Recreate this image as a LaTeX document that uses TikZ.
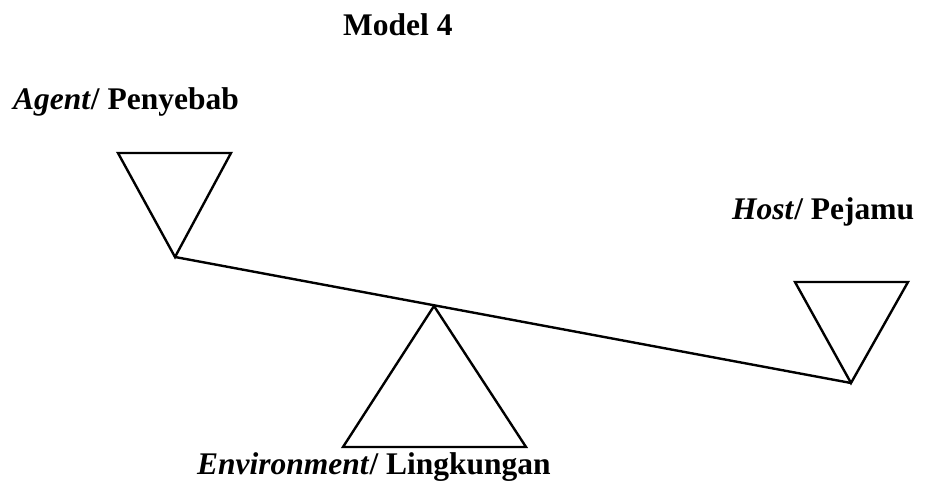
\documentclass[tikz,border=0pt]{standalone}
\usepackage{fontspec}
\setmainfont{Liberation Serif}
\begin{document}
\begin{tikzpicture}[x=1pt,y=-1pt,
  lbl/.style={font=\fontsize{31.5}{36}\selectfont\bfseries, inner sep=0pt, anchor=base west},
  outl/.style={draw=black, line width=2.4pt, line join=miter}]
\useasboundingbox (0,0) rectangle (926,486);
% labels
\node[lbl] (title) at (343,36) {Model 4};
\node[lbl] (agent) at (13,110) {\textit{Agent}/ Penyebab};
\node[lbl] (host) at (732,220) {\textit{Host}/ Pejamu};
\node[lbl] (env) at (197,474) {\textit{Environment}/ Lingkungan};
% key points
\coordinate (la) at (175,257);
\coordinate (ra) at (851,383);
\coordinate (ca) at (434,306);
% left inverted triangle
\draw[outl] (118,153) -- (231,153) -- (la) -- cycle;
% right inverted triangle
\draw[outl] (795,282) -- (908,282) -- (ra) -- cycle;
% fulcrum triangle
\draw[outl] (ca) -- (526,447) -- (343,447) -- cycle;
% beam
\draw[outl] (la) -- (ra);
\end{tikzpicture}
\end{document}
